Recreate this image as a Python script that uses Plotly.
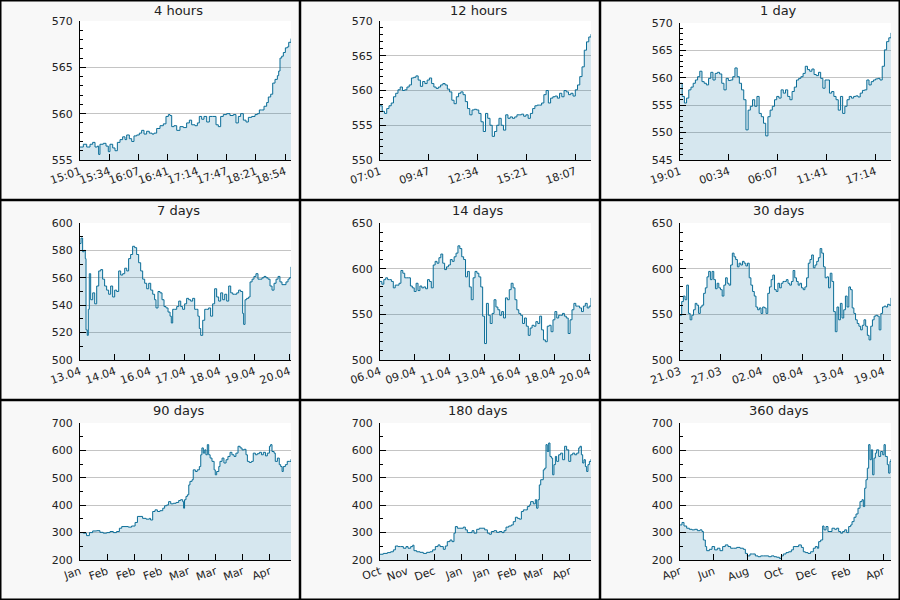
import numpy as np
import plotly.graph_objects as go

titles = ["4 hours", "12 hours", "1 day", "7 days", "14 days", "30 days",
          "90 days", "180 days", "360 days"]
spans = [14400, 43200, 86400, 604800, 1209600, 2592000, 7776000, 15552000, 31104000]  # seconds
tick_steps = [2000, 10000, 20000, 100000, 200000, 500000, 1000000, 2000000, 5000000]
tick_labels = [
    ["15:01", "15:34", "16:07", "16:41", "17:14", "17:47", "18:21", "18:54"],
    ["07:01", "09:47", "12:34", "15:21", "18:07"],
    ["19:01", "00:34", "06:07", "11:41", "17:14"],
    ["13.04", "14.04", "16.04", "17.04", "18.04", "19.04", "20.04"],
    ["06.04", "09.04", "11.04", "13.04", "16.04", "18.04", "20.04"],
    ["21.03", "27.03", "02.04", "08.04", "13.04", "19.04"],
    ["Jan", "Feb", "Feb", "Feb", "Mar", "Mar", "Mar", "Apr"],
    ["Oct", "Nov", "Dec", "Jan", "Jan", "Feb", "Mar", "Apr"],
    ["Apr", "Jun", "Aug", "Oct", "Dec", "Feb", "Apr"],
]
y_ranges = [(555, 570), (550, 570), (545, 570), (500, 600), (500, 650), (500, 650),
            (200, 700), (200, 700), (200, 700)]
y_major = [5, 5, 5, 20, 50, 50, 100, 100, 100]
y_minor = [1, 1, 1, 10, 10, 10, 50, 50, 50]

# ---- 4 hours: minutes since 15:01 and price ----
minutes_4h = [0, 3.8, 7.6, 11.4, 14.4, 17.1, 19.7, 21.2, 22.7, 26.5, 29.6, 32.2, 34.1, 37.2, 39.8,
              42.5, 45.5, 48.5, 51.2, 53.1, 56.1, 58.8, 61.4, 64.5, 67.5, 70.1, 72.8, 75.8, 78.8,
              81.9, 84.2, 87.2, 91.0, 94.8, 97.8, 100.5, 102.4, 104.3, 106.9, 110.0, 113.7, 117.5,
              121.3, 124.4, 127.0, 130.8, 133.5, 135.7, 138.4, 141.0, 144.1, 147.1, 150.9, 154.7,
              157.3, 160.0, 163.0, 166.8, 170.6, 174.4, 177.4, 180.1, 182.7, 185.8, 188.8, 191.5,
              195.3, 199.1, 201.7, 204.0, 206.6, 209.3, 212.3, 214.2, 216.9, 219.2, 221.8, 224.5,
              226.0, 227.5, 229.4, 231.3, 233.6, 235.8, 237.4, 240.0]
price_4h = [556.4, 556.7, 556.4, 556.7, 556.9, 556.4, 556.5, 555.6, 556.7, 556.8, 556.5, 555.9,
            556.7, 556.3, 556.0, 556.9, 557.2, 557.5, 557.2, 557.7, 557.3, 557.0, 557.6, 557.7,
            557.9, 558.2, 557.8, 558.1, 557.9, 557.8, 557.9, 558.4, 558.7, 558.9, 559.7, 559.9,
            559.8, 558.6, 558.7, 558.2, 558.6, 558.5, 559.0, 559.3, 558.8, 558.7, 559.0, 559.7,
            559.4, 559.7, 559.1, 559.7, 559.7, 558.8, 558.6, 559.7, 559.9, 560.0, 559.8, 559.9,
            559.0, 559.7, 560.0, 559.3, 559.1, 559.6, 559.7, 559.9, 560.0, 560.4, 560.4, 560.8,
            561.2, 561.8, 562.1, 563.3, 563.7, 564.1, 564.6, 566.0, 566.2, 566.6, 567.1, 567.2,
            567.7, 568.1]

# ---- 12 hours / 1 day: evenly sampled over the window ----
price_12h = [557.8, 557.0, 556.7, 557.4, 557.8, 558.2, 559.1, 559.6, 560.1, 560.5, 560.0, 560.1,
             560.5, 560.8, 561.8, 561.9, 562.1, 561.5, 560.6, 561.3, 561.0, 561.5, 561.8, 561.0,
             560.5, 560.3, 560.5, 560.8, 561.0, 560.8, 560.2, 559.8, 558.6, 558.1, 559.1, 559.6,
             559.8, 559.4, 558.4, 557.4, 556.5, 557.2, 557.3, 557.2, 556.7, 555.5, 554.1, 556.7,
             556.0, 555.0, 553.4, 554.1, 555.0, 556.0, 555.0, 554.3, 556.5, 556.0, 556.2, 556.0,
             556.2, 556.5, 556.5, 556.6, 556.3, 556.5, 556.0, 556.7, 557.4, 557.8, 557.9, 557.9,
             558.2, 559.4, 560.0, 558.2, 558.9, 559.1, 559.2, 558.9, 559.6, 559.1, 560.0, 559.8,
             559.4, 559.6, 559.2, 560.1, 560.8, 562.0, 563.4, 565.8, 567.0, 567.7, 568.1]
price_1d = [559.0, 556.6, 555.4, 556.3, 557.8, 558.3, 559.0, 559.6, 560.2, 561.2, 559.3, 559.0,
            558.7, 559.9, 561.0, 559.6, 560.8, 561.0, 560.7, 559.0, 557.8, 559.9, 559.5, 559.6,
            560.2, 561.8, 560.2, 559.0, 557.8, 556.0, 550.5, 554.1, 554.8, 556.0, 554.8, 556.6,
            553.5, 552.9, 551.7, 549.4, 552.9, 554.1, 554.8, 556.0, 556.6, 556.3, 557.8, 557.2,
            557.8, 556.6, 556.0, 557.5, 558.3, 559.6, 559.9, 560.2, 560.8, 562.1, 561.5, 561.2,
            561.6, 560.6, 560.4, 561.0, 559.9, 558.1, 559.6, 559.6, 557.2, 557.5, 556.6, 556.0,
            554.1, 556.6, 553.5, 554.8, 556.0, 556.6, 556.3, 556.6, 556.7, 556.5, 557.2, 557.7,
            557.8, 559.6, 558.7, 559.3, 559.6, 559.8, 559.9, 559.6, 562.1, 565.1, 566.6, 567.3,
            568.2]

# ---- 7 days: hours since 13.04 19:01 and price ----
hours_7d = [0, 0.8, 2.1, 3.2, 4.2, 4.8, 5.8, 6.6, 7.4, 8.5, 10.1, 11.7, 13.3, 14.9, 16.5, 18.0,
            19.6, 21.2, 22.8, 24.4, 26.0, 27.6, 29.2, 30.8, 32.4, 34.0, 35.6, 37.2, 38.7, 40.3,
            41.9, 43.5, 45.1, 46.7, 48.3, 49.9, 51.5, 53.1, 54.7, 56.3, 57.9, 59.4, 60.5, 62.1,
            63.7, 65.3, 66.9, 68.5, 70.1, 71.7, 72.7, 73.8, 75.4, 77.0, 78.6, 80.2, 81.7, 83.3,
            84.9, 86.5, 88.1, 89.7, 91.3, 92.9, 93.9, 95.0, 96.1, 97.7, 99.3, 100.9, 102.4, 104.0,
            105.6, 107.2, 108.8, 110.4, 112.0, 113.6, 115.2, 116.8, 118.4, 120.0, 121.6, 123.2,
            124.8, 126.3, 127.9, 129.5, 130.3, 131.4, 132.7, 134.3, 135.4, 137.0, 138.5, 140.1,
            141.7, 143.3, 144.9, 146.5, 148.1, 149.7, 151.3, 152.9, 154.5, 156.1, 157.7, 159.2,
            160.8, 162.4, 164.0, 165.6, 166.7, 168.0]
price_7d = [585, 589, 579, 580, 574, 522, 518, 537, 563, 544, 549, 541, 554, 565, 566, 559, 554,
            551, 548, 554, 546, 551, 550, 565, 562, 563, 567, 565, 574, 577, 583, 582, 577, 571,
            565, 559, 556, 552, 556, 551, 548, 544, 538, 550, 549, 544, 539, 538, 535, 532, 527,
            537, 537, 539, 543, 539, 537, 541, 545, 544, 543, 545, 537, 537, 532, 523, 518, 529,
            537, 537, 538, 532, 541, 552, 546, 543, 549, 544, 548, 543, 554, 549, 548, 548, 549,
            551, 550, 534, 526, 544, 545, 546, 557, 559, 561, 563, 559, 559, 560, 561, 560, 559,
            554, 551, 556, 559, 561, 557, 555, 555, 557, 559, 560, 568]

# ---- 14 / 30 days: evenly sampled over the window ----
price_14d = [586, 583, 588, 590, 588, 588, 586, 579, 582, 582, 584, 598, 595, 590, 590, 590, 581,
             579, 575, 584, 576, 581, 579, 580, 578, 588, 586, 579, 604, 608, 606, 612, 616, 606,
             599, 602, 604, 610, 608, 613, 617, 625, 622, 613, 610, 591, 597, 580, 566, 590, 597,
             595, 591, 580, 548, 518, 562, 549, 540, 551, 566, 558, 555, 549, 553, 546, 568, 566,
             577, 584, 579, 566, 555, 551, 549, 540, 546, 537, 527, 535, 538, 537, 542, 540, 548,
             533, 522, 520, 537, 538, 531, 544, 553, 546, 549, 549, 551, 548, 546, 529, 544, 555,
             562, 559, 559, 557, 553, 559, 562, 557, 559, 568]
price_30d = [549, 564, 570, 566, 582, 551, 544, 549, 555, 562, 560, 551, 558, 560, 573, 579, 591,
             597, 588, 597, 588, 578, 584, 579, 577, 570, 582, 590, 584, 582, 604, 617, 613, 610,
             602, 606, 604, 608, 606, 603, 606, 590, 582, 575, 570, 558, 555, 557, 551, 558, 557,
             551, 573, 580, 588, 593, 577, 575, 584, 579, 584, 586, 586, 588, 584, 582, 586, 598,
             590, 586, 582, 584, 579, 577, 580, 590, 606, 610, 615, 601, 604, 608, 612, 622, 617,
             602, 590, 591, 579, 595, 586, 553, 531, 558, 544, 562, 546, 555, 570, 558, 580, 577,
             557, 551, 544, 540, 537, 533, 538, 544, 537, 527, 522, 537, 544, 548, 549, 548, 533,
             551, 558, 559, 558, 561, 560, 568]

# ---- longer windows: readings with their day offsets from the window start ----
days_90d = [0, 1.4, 2.8, 4.0, 5.4, 7.1, 8.5, 9.9, 11.4, 12.8, 14.2, 15.6, 16.8, 17.8, 19.2,
            20.6, 22.0, 23.5, 24.5, 25.6, 26.7, 28.2, 29.6, 30.1, 31.0, 32.0, 33.0, 34.1, 35.3,
            36.1, 37.0, 37.8, 38.7, 39.8, 41.0, 42.1, 42.9, 43.8, 44.2, 44.6, 45.2, 45.8, 46.4,
            46.9, 47.8, 48.3, 49.2, 50.0, 50.9, 51.5, 52.0, 52.6, 53.2, 53.7, 54.3, 54.9, 55.5,
            56.3, 57.2, 57.7, 58.3, 59.2, 59.7, 60.6, 61.4, 62.3, 63.1, 64.0, 64.8, 65.7, 66.5,
            67.4, 68.3, 69.1, 70.0, 70.8, 71.4, 72.2, 73.1, 73.9, 74.8, 75.6, 76.5, 77.4, 78.2,
            79.1, 79.9, 80.8, 81.3, 81.9, 82.8, 83.3, 84.2, 85.0, 85.6, 86.2, 86.7, 87.6, 88.4,
            89.3, 90.0]
price_90d = [300, 298, 289, 300, 306, 307, 301, 298, 300, 304, 300, 304, 316, 322, 322, 320, 324,
             337, 359, 359, 352, 349, 352, 346, 377, 383, 377, 380, 389, 398, 401, 413, 405, 407,
             410, 417, 420, 413, 389, 420, 432, 438, 474, 487, 493, 529, 523, 529, 541, 584, 609,
             590, 602, 584, 621, 584, 572, 560, 529, 511, 523, 541, 560, 572, 554, 566, 578, 593,
             584, 578, 590, 615, 609, 602, 604, 584, 560, 556, 560, 590, 584, 588, 593, 584, 593,
             580, 590, 615, 621, 596, 590, 560, 572, 548, 541, 523, 541, 548, 560, 560, 568]
days_180d = [0, 2.8, 6.3, 9.1, 11.4, 13.1, 15.4, 17.6, 19.9, 22.2, 23.9, 26.2, 27.9, 29.0, 31.3,
             34.1, 36.9, 39.8, 42.7, 44.9, 47.2, 49.5, 51.2, 54.0, 55.7, 57.4, 59.7, 61.4, 63.1,
             64.3, 66.0, 68.2, 71.1, 72.8, 74.5, 76.8, 78.5, 80.2, 82.5, 84.7, 87.0, 89.3, 91.6,
             93.3, 95.0, 97.3, 99.5, 101.8, 104.1, 105.8, 107.5, 109.8, 112.0, 113.7, 115.5,
             117.2, 118.9, 120.6, 122.3, 124.0, 125.7, 127.4, 128.5, 130.8, 132.5, 133.6, 134.8,
             135.9, 137.1, 138.2, 139.3, 140.5, 141.6, 142.7, 143.9, 145.0, 146.2, 147.3, 148.4,
             149.6, 150.7, 152.4, 154.1, 155.8, 157.5, 159.2, 161.0, 162.7, 164.4, 166.1, 167.8,
             169.5, 170.6, 171.8, 172.9, 174.0, 175.2, 176.3, 177.4, 178.6, 180.0]
price_180d = [221, 224, 227, 230, 237, 251, 249, 249, 243, 249, 243, 249, 254, 234, 230, 228, 224,
              228, 230, 237, 249, 255, 249, 239, 251, 267, 273, 267, 298, 322, 316, 316, 320, 310,
              300, 300, 307, 298, 312, 316, 316, 310, 298, 294, 304, 307, 301, 304, 300, 307, 320,
              324, 328, 340, 356, 352, 349, 377, 383, 383, 395, 401, 413, 405, 420, 389, 420, 474,
              493, 493, 529, 535, 621, 596, 627, 578, 572, 511, 548, 578, 560, 584, 590, 566, 615,
              602, 560, 584, 590, 584, 590, 609, 615, 584, 554, 566, 541, 523, 548, 560, 568]
days_360d = [0, 3.4, 6.8, 11.4, 15.9, 20.5, 25.0, 29.6, 34.1, 37.5, 39.8, 43.2, 45.5, 50.1, 54.6,
             59.1, 63.7, 68.2, 72.8, 77.3, 81.9, 86.4, 91.0, 96.7, 102.4, 108.1, 111.5, 114.9,
             119.4, 124.0, 128.5, 133.1, 137.6, 142.2, 146.7, 151.3, 155.8, 160.4, 164.9, 169.5,
             172.9, 176.3, 180.9, 185.4, 190.0, 193.4, 197.9, 202.5, 207.0, 210.4, 213.8, 218.4,
             222.9, 227.5, 230.9, 234.3, 236.6, 240.0, 243.4, 245.7, 249.1, 252.5, 255.9, 259.3,
             263.9, 267.3, 270.7, 274.1, 277.5, 281.0, 284.4, 287.8, 291.2, 293.5, 296.9, 300.3,
             303.7, 307.1, 310.5, 312.8, 315.1, 317.3, 319.6, 321.9, 324.2, 326.4, 328.7, 331.0,
             333.3, 335.5, 339.0, 342.4, 345.8, 348.1, 350.3, 353.7, 356.0, 358.3, 360.0]
price_360d = [328, 337, 324, 316, 312, 310, 312, 307, 310, 304, 273, 249, 234, 239, 249, 237, 243,
              234, 249, 255, 249, 243, 243, 246, 243, 239, 224, 215, 222, 222, 215, 212, 215, 215,
              215, 212, 215, 212, 210, 206, 215, 222, 227, 230, 237, 249, 249, 255, 246, 230, 227,
              224, 230, 243, 249, 243, 267, 273, 324, 310, 322, 304, 304, 316, 312, 316, 304, 298,
              304, 310, 300, 322, 328, 340, 356, 368, 389, 413, 420, 395, 462, 493, 535, 621, 566,
              602, 511, 572, 590, 602, 578, 596, 584, 621, 578, 548, 517, 560, 568]

LINE = "#0a6d97"
FILL = "rgba(0,107,153,0.16)"
FONT = "DejaVu Sans"
W, H = 900, 600
tops = [21, 21, 23, 23, 23, 23, 23, 23, 23]


def timed(t, v, unit_seconds):
    n = min(len(t), len(v))
    return np.array(t[:n], dtype=float) * unit_seconds, np.array(v[:n], dtype=float)


def even(v, span):
    return np.linspace(0, span, len(v)), np.array(v, dtype=float)


series = [
    timed(minutes_4h, price_4h, 60),
    even(price_12h, spans[1]),
    even(price_1d, spans[2]),
    timed(hours_7d, price_7d, 3600),
    even(price_14d, spans[4]),
    even(price_30d, spans[5]),
    timed(days_90d, price_90d, 86400),
    timed(days_180d, price_180d, 86400),
    timed(days_360d, price_360d, 86400),
]

fig = go.Figure()
layout = {}
annotations = []
for i in range(9):
    r, c = divmod(i, 3)
    sfx = "" if i == 0 else str(i + 1)
    xv, yv = series[i]
    fig.add_trace(go.Scatter(x=xv, y=yv, mode="lines",
                             line=dict(color=LINE, width=1, shape="hv"),
                             fill="tozeroy", fillcolor=FILL,
                             xaxis="x" + sfx, yaxis="y" + sfx,
                             showlegend=False, hoverinfo="skip"))
    x0 = (300 * c + 80) / W
    x1 = (300 * c + 291) / W
    ytop = 1 - (200 * r + tops[i]) / H
    ybot = 1 - (200 * r + 160) / H
    nt = len(tick_labels[i])
    layout["xaxis" + sfx] = dict(
        domain=[x0, x1], range=[0, spans[i]], anchor="y" + sfx, automargin=False,
        tickmode="array", tickvals=[k * tick_steps[i] for k in range(nt)],
        ticktext=tick_labels[i], tickangle=-19,
        ticks="inside", ticklen=6, tickcolor="black", tickwidth=1,
        showline=True, linecolor="black", linewidth=1,
        showgrid=False, zeroline=False,
        tickfont=dict(family=FONT, size=11, color="#222"),
    )
    layout["yaxis" + sfx] = dict(
        domain=[ybot, ytop], range=list(y_ranges[i]), anchor="x" + sfx, automargin=False,
        tick0=y_ranges[i][0], dtick=y_major[i],
        ticks="inside", ticklen=6, tickcolor="black", tickwidth=1,
        minor=dict(dtick=y_minor[i], tick0=y_ranges[i][0], ticks="inside",
                   ticklen=3, tickcolor="black", showgrid=False),
        showline=True, linecolor="black", linewidth=1,
        showgrid=True, gridcolor="#c4c4c4", gridwidth=1, zeroline=False,
        tickfont=dict(family=FONT, size=11, color="#222"),
        ticklabelstandoff=4,
    )
    annotations.append(dict(text=titles[i], xref="paper", yref="paper",
                            x=(300 * c + 178.5) / W, y=1 - (200 * r + 10.5) / H,
                            xanchor="center", yanchor="middle", showarrow=False,
                            font=dict(family=FONT, size=13, color="#222")))

shapes = [dict(type="rect", xref="paper", yref="paper", x0=0, y0=0, x1=1, y1=1,
               line=dict(color="black", width=3))]
for k in (1, 2):
    shapes.append(dict(type="line", xref="paper", yref="paper", x0=k / 3, x1=k / 3, y0=0, y1=1,
                       line=dict(color="black", width=2.5)))
    shapes.append(dict(type="line", xref="paper", yref="paper", y0=k / 3, y1=k / 3, x0=0, x1=1,
                       line=dict(color="black", width=2.5)))

fig.update_layout(template="none", width=W, height=H, margin=dict(l=0, r=0, t=0, b=0, pad=0),
                  paper_bgcolor="#f8f8f8", plot_bgcolor="white",
                  font=dict(family=FONT, size=11, color="#222"),
                  annotations=annotations, shapes=shapes, **layout)
fig.write_html("out.html")
